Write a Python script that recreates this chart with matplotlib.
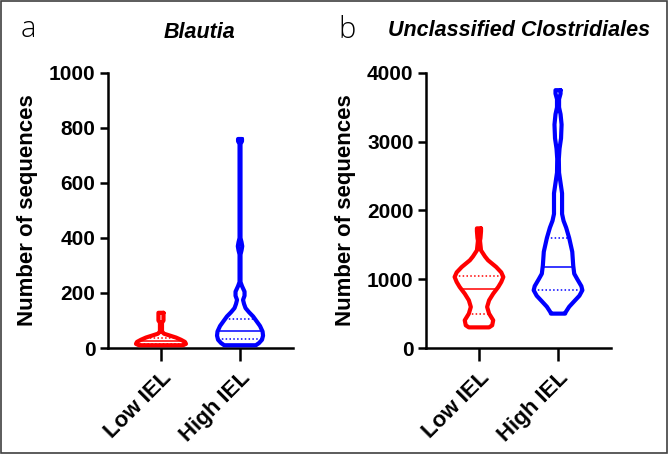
import matplotlib
matplotlib.use("Agg")
import matplotlib.pyplot as plt
import numpy as np
from matplotlib.patches import Rectangle

plt.rcParams["font.family"] = ["Liberation Sans", "DejaVu Sans"]

groups = ["Low IEL", "High IEL"]
red = "#FF0000"
blue = "#0000FF"

# panel a: Blautia -- violin profiles (value, half width in category units)
blautia_low_levels = [128, 118, 100, 92, 60, 52, 45, 38, 30, 22, 15, 10]
blautia_low_half = [0.032, 0.032, 0.032, 0.013, 0.013, 0.038, 0.114, 0.19,
                    0.253, 0.304, 0.316, 0.278]
blautia_low_quart = [15, 25, 38]

blautia_high_levels = [760, 752, 742, 400, 385, 370, 355, 340, 240, 225, 205,
                       190, 175, 160, 145, 130, 115, 100, 80, 60, 45, 30, 18, 10]
blautia_high_half = [0.025, 0.025, 0.006, 0.006, 0.019, 0.028, 0.019, 0.006,
                     0.006, 0.025, 0.057, 0.057, 0.038, 0.051, 0.07, 0.114,
                     0.165, 0.203, 0.253, 0.285, 0.291, 0.278, 0.24, 0.2]
blautia_high_quart = [32, 61, 107]

# panel b: Unclassified Clostridiales
clos_low_levels = [1740, 1700, 1600, 1560, 1420, 1330, 1276, 1178, 1100, 1033,
                   960, 887, 790, 694, 597, 500, 403, 330, 300]
clos_low_half = [0.026, 0.026, 0.019, 0.013, 0.026, 0.077, 0.115, 0.218, 0.282,
                 0.308, 0.282, 0.244, 0.18, 0.128, 0.103, 0.128, 0.18, 0.167,
                 0.128]
clos_low_quart = [490, 860, 1053]

clos_high_levels = [3750, 3700, 3620, 3500, 3400, 3250, 3050, 2900, 2750, 2550,
                    2400, 2250, 2100, 1950, 1850, 1750, 1600, 1400, 1200, 1080,
                    1000, 900, 840, 760, 680, 600, 520, 500]
clos_high_half = [0.032, 0.032, 0.013, 0.013, 0.032, 0.045, 0.038, 0.019, 0.01,
                  0.013, 0.032, 0.051, 0.051, 0.051, 0.07, 0.103, 0.141, 0.18,
                  0.192, 0.205, 0.244, 0.295, 0.308, 0.27, 0.205, 0.141, 0.096,
                  0.09]
clos_high_quart = [840, 1180, 1595]


def draw_violin(ax, pos, levels, half, color, quartiles):
    levels = np.asarray(levels, dtype=float)
    half = np.asarray(half, dtype=float)
    xs = np.concatenate([pos + half, (pos - half)[::-1], [pos + half[0]]])
    ys = np.concatenate([levels, levels[::-1], [levels[0]]])
    ax.plot(xs, ys, color=color, lw=3, solid_joinstyle="round",
            solid_capstyle="round", clip_on=False, zorder=3)
    for q, ls in zip(quartiles, [(0, (1, 1.5)), "-", (0, (1, 1.5))]):
        w = np.interp(q, levels[::-1], half[::-1])
        ax.plot([pos - w, pos + w], [q, q], color=color, lw=1.1, ls=ls,
                zorder=2)


def style_axis(ax, ymax, step):
    ax.set_xlim(-0.67, 1.67)
    ax.set_ylim(0, ymax)
    ax.set_yticks(np.arange(0, ymax + 1, step))
    ax.set_xticks([0, 1])
    ax.set_xticklabels(groups, rotation=45, ha="right", va="top",
                       rotation_mode="anchor", fontsize=16, fontweight="bold")
    for lab in ax.get_yticklabels():
        lab.set_fontweight("bold")
        lab.set_fontsize(15)
    ax.spines["top"].set_visible(False)
    ax.spines["right"].set_visible(False)
    ax.spines["left"].set_linewidth(1.8)
    ax.spines["bottom"].set_linewidth(1.8)
    ax.tick_params(axis="y", length=6, width=1.8, pad=3)
    ax.tick_params(axis="x", length=9, width=1.8, pad=5)
    ax.set_ylabel("Number of sequences", fontsize=16, fontweight="bold",
                  labelpad=8)


fig = plt.figure(figsize=(6.68, 4.54), dpi=100)

ax_a = fig.add_axes([108 / 668, 1 - 348 / 454, 185 / 668, 275 / 454])
ax_b = fig.add_axes([426 / 668, 1 - 348 / 454, 185 / 668, 275 / 454])

draw_violin(ax_a, 0, blautia_low_levels, blautia_low_half, red,
            blautia_low_quart)
draw_violin(ax_a, 1, blautia_high_levels, blautia_high_half, blue,
            blautia_high_quart)
style_axis(ax_a, 1000, 200)

draw_violin(ax_b, 0, clos_low_levels, clos_low_half, red, clos_low_quart)
draw_violin(ax_b, 1, clos_high_levels, clos_high_half, blue, clos_high_quart)
style_axis(ax_b, 4000, 1000)

fig.text(200 / 668, 1 - 32 / 454, "Blautia", ha="center", va="center",
         fontsize=15.5, fontweight="bold", fontstyle="italic")
fig.text(519 / 668, 1 - 31 / 454, "Unclassified Clostridiales", ha="center",
         va="center", fontsize=15.5, fontweight="bold", fontstyle="italic")

fig.text(21 / 668, 1 - 37 / 454, "a", fontsize=21, fontweight="light",
         family=["Open Sans", "DejaVu Sans"])
fig.text(338 / 668, 1 - 38 / 454, "b", fontsize=21, fontweight="light",
         family=["Open Sans", "DejaVu Sans"])

fig.patches.append(Rectangle((0.001, 0.002), 0.997, 0.996,
                             transform=fig.transFigure, fill=False,
                             edgecolor="#404040", lw=1.2))

fig.savefig("out.png", dpi=100)
